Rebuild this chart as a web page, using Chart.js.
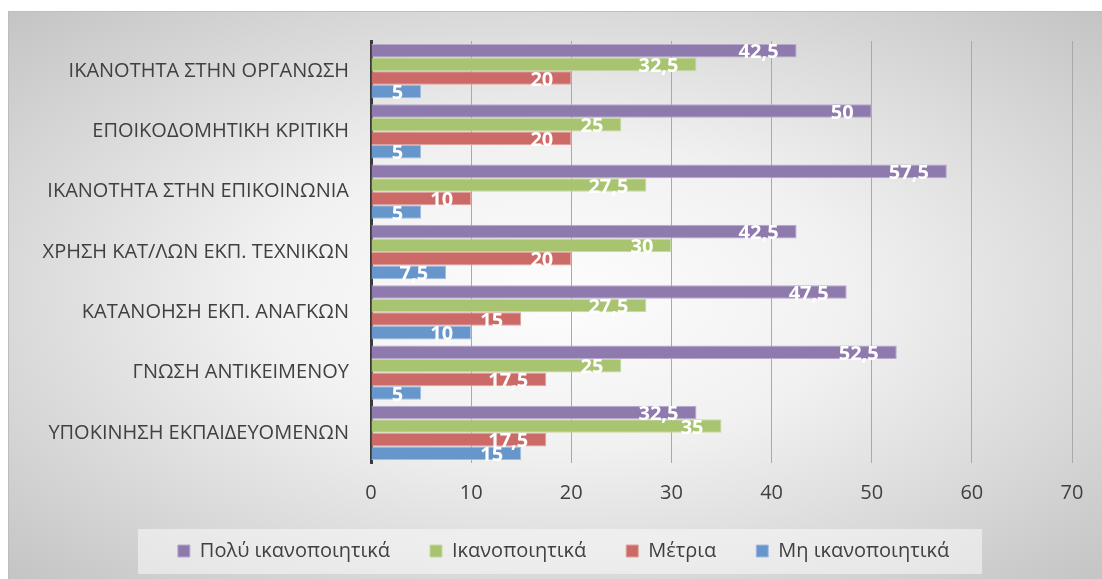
<!DOCTYPE html>
<html>
<head>
<meta charset="utf-8">
<script src="https://cdn.jsdelivr.net/npm/chart.js@4"></script>
<style>
html, body { margin: 0; padding: 0; background: #fff; }
#wrap {
  position: absolute; left: 8px; top: 11px; width: 1094px; height: 568px;
  background: radial-gradient(ellipse at center, #fdfdfd 0%, #f1f1f1 38%, #c4c4c4 100%);
  border-top: 1px solid #bdbdbd; border-left: 1px solid #bdbdbd;
}
</style>
</head>
<body>
<div id="wrap"><canvas id="chart" width="1094" height="568"></canvas></div>
<script>
// δεδομένα
const categories = [
  'ΙΚΑΝΟΤΗΤΑ ΣΤΗΝ ΟΡΓΑΝΩΣΗ',
  'ΕΠΟΙΚΟΔΟΜΗΤΙΚΗ ΚΡΙΤΙΚΗ',
  'ΙΚΑΝΟΤΗΤΑ ΣΤΗΝ ΕΠΙΚΟΙΝΩΝΙΑ',
  'ΧΡΗΣΗ ΚΑΤ/ΛΩΝ ΕΚΠ. ΤΕΧΝΙΚΩΝ',
  'ΚΑΤΑΝΟΗΣΗ ΕΚΠ. ΑΝΑΓΚΩΝ',
  'ΓΝΩΣΗ ΑΝΤΙΚΕΙΜΕΝΟΥ',
  'ΥΠΟΚΙΝΗΣΗ ΕΚΠΑΙΔΕΥΟΜΕΝΩΝ'
];
const seriesNames = ['Πολύ ικανοποιητικά', 'Ικανοποιητικά', 'Μέτρια', 'Μη ικανοποιητικά'];
const poluIkanopoiitika = [42.5, 50, 57.5, 42.5, 47.5, 52.5, 32.5];
const ikanopoiitika = [32.5, 25, 27.5, 30, 27.5, 25, 35];
const metria = [20, 20, 10, 20, 15, 17.5, 17.5];
const miIkanopoiitika = [5, 5, 5, 7.5, 10, 5, 15];
const xMin = 0, xMax = 70, xStep = 10;

const fills = ['#8f7aae', '#a8c470', '#cb6a67', '#6796ca'];
const edges = ['#b8a9cd', '#c6d9a2', '#e0a09e', '#a0bde0'];
const legendShiftX = 23;
const legendShiftY = -6;

// Nhãn giá trị trên thanh (kiểu Excel, dấu phẩy thập phân)
const barLabelPlugin = {
    id: 'barLabels',
    afterDatasetsDraw(chart) {
        const ctx = chart.ctx;
        ctx.save();
        ctx.font = 'bold 20px "Open Sans"';
        ctx.fillStyle = '#ffffff';
        ctx.textAlign = 'right';
        ctx.textBaseline = 'middle';
        chart.data.datasets.forEach((ds, i) => {
            chart.getDatasetMeta(i).data.forEach((bar, j) => {
                const txt = String(ds.data[j]).replace('.', ',');
                ctx.fillText(txt, bar.x - 18, bar.y + 2);
            });
        });
        ctx.restore();
    }
};

// Khung nền cho chú thích + dời chú thích một chút
const legendBoxPlugin = {
    id: 'legendBox',
    afterUpdate(chart) {
        const lg = chart.legend;
        if (!lg) return;
        lg.left += legendShiftX;
        lg.right += legendShiftX;
        lg.top += legendShiftY;
        lg.bottom += legendShiftY;
        lg.legendHitBoxes.forEach(b => { b.left += legendShiftX; b.top += legendShiftY; });
    },
    beforeDraw(chart) {
        const lg = chart.legend;
        if (!lg || !lg.legendHitBoxes.length) return;
        const boxes = lg.legendHitBoxes;
        const left = Math.min(...boxes.map(b => b.left)) - 40;
        const right = Math.max(...boxes.map(b => b.left + b.width)) + 33;
        const cy = boxes[0].top + boxes[0].height / 2;
        const ctx = chart.ctx;
        ctx.save();
        ctx.fillStyle = 'rgba(250,250,250,0.55)';
        ctx.fillRect(left, cy - 22, right - left, 45);
        ctx.restore();
    }
};

const ctx = document.getElementById('chart').getContext('2d');
new Chart(ctx, {
    type: 'bar',
    data: {
        labels: categories,
        datasets: [poluIkanopoiitika, ikanopoiitika, metria, miIkanopoiitika].map((d, i) => ({
            label: seriesNames[i],
            data: d,
            backgroundColor: fills[i],
            borderColor: edges[i],
            borderWidth: 1,
            categoryPercentage: 0.9,
            barPercentage: 1.0
        }))
    },
    options: {
        indexAxis: 'y',
        responsive: false,
        animation: false,
        layout: { padding: { top: 29, right: 31, bottom: 3, left: 0 } },
        scales: {
            x: {
                min: xMin,
                max: xMax,
                ticks: {
                    stepSize: xStep,
                    color: '#404040',
                    font: { family: 'Open Sans', size: 20 },
                    padding: 18
                },
                grid: {
                    drawTicks: false,
                    color: c => c.tick && c.tick.value === 0 ? 'rgba(0,0,0,0)' : '#a9a9a9'
                },
                border: { display: false },
                afterFit(scale) { scale.height = 44; }
            },
            y: {
                ticks: {
                    color: '#404040',
                    font: { family: 'Open Sans', size: 20 },
                    padding: 22
                },
                grid: { display: false, drawTicks: false },
                border: { display: true, color: '#3a3a3a', width: 3 },
                afterFit(scale) {
                    scale.width = 362;
                    scale.paddingTop = 0;
                    scale.paddingBottom = 0;
                }
            }
        },
        plugins: {
            legend: {
                position: 'bottom',
                labels: {
                    boxWidth: 12,
                    boxHeight: 12,
                    padding: 40,
                    color: '#404040',
                    font: { family: 'Open Sans', size: 20 }
                }
            },
            tooltip: { enabled: false }
        }
    },
    plugins: [legendBoxPlugin, barLabelPlugin]
});
</script>
</body>
</html>
